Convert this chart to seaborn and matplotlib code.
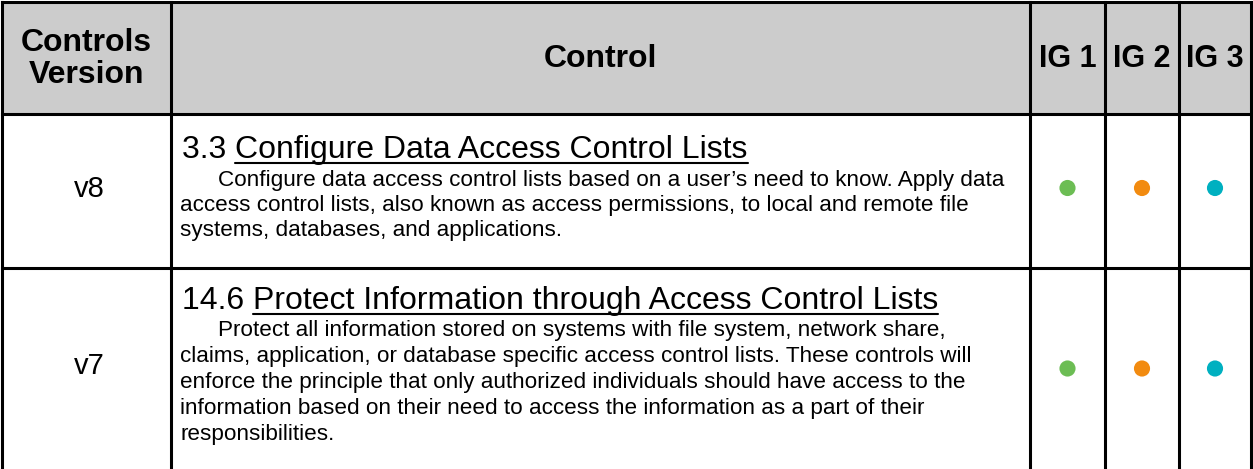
import matplotlib
matplotlib.use("Agg")
import matplotlib.pyplot as plt
import pandas as pd
import seaborn as sns

# --- data ---
header_labels = ["Controls\nVersion", "Control", "IG 1", "IG 2", "IG 3"]
versions = ["v8", "v7"]
control_ids = ["3.3", "14.6"]
control_titles = ["Configure Data Access Control Lists",
                  "Protect Information through Access Control Lists"]
control_desc = [
    ["Configure data access control lists based on a user\u2019s need to know. Apply data",
     "access control lists, also known as access permissions, to local and remote file",
     "systems, databases, and applications."],
    ["Protect all information stored on systems with file system, network share,",
     "claims, application, or database specific access control lists. These controls will",
     "enforce the principle that only authorized individuals should have access to the",
     "information based on their need to access the information as a part of their",
     "responsibilities."],
]
ig_groups = ["IG 1", "IG 2", "IG 3"]
ig_v8 = [1, 1, 1]
ig_v7 = [1, 1, 1]
ig_colors = {"IG 1": "#6cbd54", "IG 2": "#f28b10", "IG 3": "#00b0c0"}

# --- layout (pixels) ---
W, H = 1253, 469
col_edges = [2, 171, 1030, 1105, 1179, 1251]
row_edges = [2, 114, 268, 469]
title_base = [158, 309]
body_first = [186, 336]
body_gap = [25, 26]
lw = 2.2

sns.set_theme(style="white")
plt.rcParams["font.family"] = ["Liberation Sans", "DejaVu Sans"]
plt.rcParams["text.color"] = "black"

fig = plt.figure(figsize=(W / 100, H / 100), dpi=100)
ax = fig.add_axes([0, 0, 1, 1])
ax.set_xlim(0, W)
ax.set_ylim(H, 0)
ax.axis("off")

# header background
ax.add_patch(plt.Rectangle((col_edges[0], row_edges[0]), col_edges[-1] - col_edges[0],
                           row_edges[1] - row_edges[0], color="#cccccc", zorder=0))

# grid lines
for x in col_edges:
    ax.plot([x, x], [row_edges[0], H], color="black", lw=lw, solid_capstyle="projecting")
for y in row_edges[:-1]:
    ax.plot([col_edges[0], col_edges[-1]], [y, y], color="black", lw=lw, solid_capstyle="projecting")

# header text
hy = (row_edges[0] + row_edges[1]) / 2
for i, lab in enumerate(header_labels):
    cx = (col_edges[i] + col_edges[i + 1]) / 2
    fs = 22 if lab.startswith("IG") else 23
    ax.text(cx, hy + 1, lab, ha="center", va="center", fontsize=fs, fontweight="bold",
            linespacing=1.05)

fig.canvas.draw()
renderer = fig.canvas.get_renderer()
inv = ax.transData.inverted()

for r in range(2):
    top, bot = row_edges[r + 1], row_edges[r + 2]
    cy = (top + bot) / 2
    ax.text((col_edges[0] + col_edges[1]) / 2 + 3, cy - 2, versions[r], ha="center",
            va="center", fontsize=21)

    x0 = col_edges[1] + 11
    t1 = ax.text(x0, title_base[r], control_ids[r] + " ", ha="left", va="baseline", fontsize=23)
    bb = t1.get_window_extent(renderer)
    xs = inv.transform((bb.x1, 0))[0]
    t2 = ax.text(xs, title_base[r], control_titles[r], ha="left", va="baseline", fontsize=23)
    bb2 = t2.get_window_extent(renderer)
    xe = inv.transform((bb2.x1, 0))[0]
    ax.plot([xs, xe], [title_base[r] + 5, title_base[r] + 5], color="black", lw=1.5)

    for k, line in enumerate(control_desc[r]):
        xx = x0 + 36 if k == 0 else x0 - 2
        ax.text(xx, body_first[r] + k * body_gap[r], line, ha="left", va="baseline",
                fontsize=16.2)

# IG dots
centers_x = [(col_edges[i] + col_edges[i + 1]) / 2 for i in range(2, 5)]
rows_y = [(row_edges[1] + row_edges[2]) / 2 - 3, (row_edges[2] + row_edges[3]) / 2]
dots = pd.DataFrame({
    "x": centers_x * 2,
    "y": [rows_y[0]] * 3 + [rows_y[1]] * 3,
    "ig": ig_groups * 2,
    "on": ig_v8 + ig_v7,
})
dots = dots[dots["on"] == 1]
sns.scatterplot(data=dots, x="x", y="y", hue="ig", palette=ig_colors, s=135,
                linewidth=0, legend=False, ax=ax, zorder=5)
ax.set_xlim(0, W)
ax.set_ylim(H, 0)
ax.axis("off")

fig.savefig("out.png", dpi=100)
